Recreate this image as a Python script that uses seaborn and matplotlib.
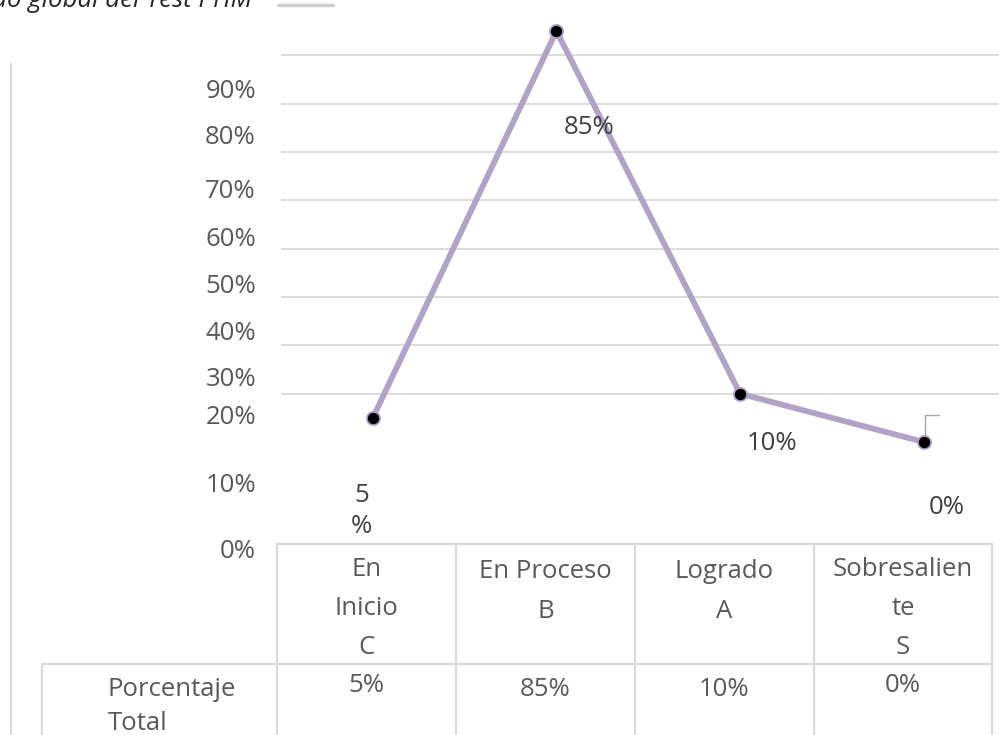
import pandas as pd
import matplotlib.pyplot as plt
import seaborn as sns
from matplotlib.lines import Line2D

# Data
categories = ["En Inicio C", "En Proceso B", "Logrado A", "Sobresaliente S"]
header_labels = ["En\nInicio\nC", "En Proceso\nB", "Logrado\nA", "Sobresalien\nte\nS"]
percentages = [5, 85, 10, 0]
value_labels = ["5%", "85%", "10%", "0%"]
point_labels = ["5\n%", "85%", "10%", "0%"]
ytick_labels = ["90%", "80%", "70%", "60%", "50%", "40%", "30%", "20%", "10%", "0%"]
row_label = "Porcentaje\nTotal"
title = "Resultado global del Test PHM"

W, H = 999, 735


def fx(x):
    return x / W


def fy(y):
    return 1 - y / H


sns.set_style("white")
plt.rcParams['font.family'] = ['Open Sans', 'DejaVu Sans']

fig = plt.figure(figsize=(9.99, 7.35), dpi=100)

# plot area: 0% at y=442px, 85% at y=31px
ax = fig.add_axes([fx(281), fy(442), fx(999) - fx(281), (442 - 31) / H])
df = pd.DataFrame({'cat': categories, 'pct': percentages})
sns.lineplot(data=df, x='cat', y='pct', ax=ax, color='#B3A2C7', linewidth=4.2,
             marker='o', markersize=9.5, markerfacecolor='black',
             markeredgecolor='#B3A2C7', markeredgewidth=1.3, sort=False, clip_on=False)
ax.set_xlim(-0.50, 3.41)
ax.set_ylim(0, 85)
ax.set_yticks(range(10, 81, 10))
ax.yaxis.grid(True, color='#D9D9D9', linewidth=1.3)
ax.set_axisbelow(True)
ax.tick_params(left=False, bottom=False, labelleft=False, labelbottom=False)
ax.set_xlabel('')
ax.set_ylabel('')
for s in ax.spines.values():
    s.set_visible(False)

# data labels (offset from the points, in pixels)
offsets = [(-11, -93), (33, -97), (32, -50), (23, -66)]
for i, (lab, off) in enumerate(zip(point_labels, offsets)):
    ax.annotate(lab, (i, percentages[i]), xytext=off, textcoords='offset pixels',
                ha='center', va='center', fontsize=18.5, color='#404040',
                linespacing=1.3, annotation_clip=False)

# leader line on the last point
lead = Line2D([fx(925), fx(925), fx(939)], [fy(436), fy(415), fy(415)],
              transform=fig.transFigure, color='#A6A6A6', linewidth=1)
fig.add_artist(lead)

# misplaced y tick labels
ytick_y = [92, 138, 191, 240, 287, 333, 379, 417, 485, 551]
for lab, y in zip(ytick_labels, ytick_y):
    fig.text(fx(256), fy(y), lab, ha='right', va='center', fontsize=18.5, color='#595959')

# cut title and legend key
fig.text(fx(252), fy(7), title, ha='right', va='baseline', fontsize=18.5,
         style='italic', color='#262626')
fig.add_artist(Line2D([fx(278), fx(333)], [fy(5), fy(5)], transform=fig.transFigure,
                      color='#D0D0D0', linewidth=2.5))

# left frame line
line_kw = dict(transform=fig.transFigure, color='#D9D9D9', linewidth=1.5)
fig.add_artist(Line2D([fx(11), fx(11)], [fy(64), fy(735)], **line_kw))

# data table
col_edges = [277, 456, 635, 814, 992]
fig.add_artist(Line2D([fx(277), fx(992)], [fy(544), fy(544)], **line_kw))
fig.add_artist(Line2D([fx(42), fx(992)], [fy(664), fy(664)], **line_kw))
fig.add_artist(Line2D([fx(42), fx(42)], [fy(664), fy(735)], **line_kw))
for xe in col_edges:
    fig.add_artist(Line2D([fx(xe), fx(xe)], [fy(544), fy(735)], **line_kw))

for i, lab in enumerate(header_labels):
    cx = (col_edges[i] + col_edges[i + 1]) / 2
    lines = lab.split('\n')
    y0 = 569 if len(lines) == 3 else 572
    for j, ln in enumerate(lines):
        fig.text(fx(cx), fy(y0 + j * 39.5), ln, ha='center', va='center',
                 fontsize=18.5, color='#595959')

row_y = [686, 690, 690, 686]
for i, lab in enumerate(value_labels):
    cx = (col_edges[i] + col_edges[i + 1]) / 2
    fig.text(fx(cx), fy(row_y[i]), lab, ha='center', va='center', fontsize=18.5, color='#595959')

for j, ln in enumerate(row_label.split('\n')):
    fig.text(fx(108), fy(690 + j * 33), ln, ha='left', va='center', fontsize=18.5, color='#595959')

plt.savefig('out.png', dpi=100)
plt.close(fig)
